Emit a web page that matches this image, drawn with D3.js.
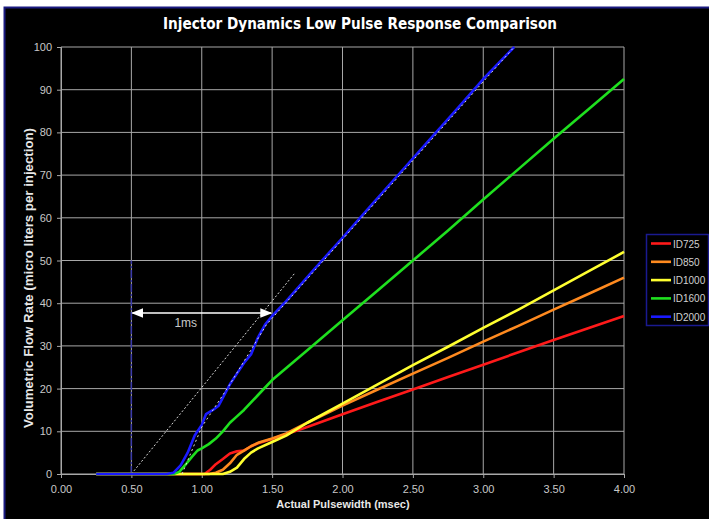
<!DOCTYPE html>
<html><head><meta charset="utf-8">
<script src="https://cdn.jsdelivr.net/npm/d3@7"></script>
<style>html,body{margin:0;padding:0;background:#fff;}svg{display:block;}</style>
</head><body>
<svg id="c" width="709" height="519"></svg>
<script>
const title = "Injector Dynamics Low Pulse Response Comparison";
const xLabel = "Actual Pulsewidth (msec)";
const yLabel = "Volumetric Flow Rate (micro liters per injection)";
const xTicks = [0,0.5,1,1.5,2,2.5,3,3.5,4];
const yTicks = [0,10,20,30,40,50,60,70,80,90,100];
const seriesNames = ["ID725","ID850","ID1000","ID1600","ID2000"];
const seriesColors = ["#ff1a1a","#ff8a1f","#ffff30","#1fe01f","#1a1aff"];
const id725 = [[0.25,0],[1.02,0],[1.06,1],[1.1,2.3],[1.15,3.5],[1.2,4.8],[1.25,5.3],[1.3,5.5],[1.35,6.5],[1.4,7.2],[1.5,8.2],[1.75,11],[2.0,14],[2.25,16.9],[2.5,19.8],[2.75,22.7],[3.0,25.6],[3.25,28.5],[3.5,31.4],[3.75,34.2],[4.0,37]];
const id850 = [[0.25,0],[1.05,0],[1.1,0.3],[1.15,1],[1.2,2.5],[1.25,4.5],[1.3,5.5],[1.35,6.5],[1.4,7.3],[1.5,8.3],[1.6,9.5],[1.75,12],[2.0,16],[2.25,19.8],[2.5,23.5],[2.75,27.2],[3.0,31],[3.25,34.7],[3.5,38.5],[3.75,42.2],[4.0,46]];
const id1000 = [[0.25,0],[1.15,0],[1.2,0.5],[1.25,1.5],[1.3,3.5],[1.35,5],[1.4,6],[1.5,7.5],[1.6,9],[1.75,12],[2.0,16.5],[2.25,21],[2.5,25.5],[2.75,29.8],[3.0,34.2],[3.25,38.5],[3.5,43],[3.75,47.5],[4.0,52]];
const id1600 = [[0.25,0],[0.8,0],[0.84,0.5],[0.88,2],[0.93,4],[0.97,5.5],[1.0,6],[1.05,7],[1.1,8.3],[1.15,10],[1.2,12],[1.25,13.5],[1.3,15],[1.4,18.5],[1.5,22],[1.75,29],[2.0,36],[2.25,43],[2.5,50],[2.75,57],[3.0,64.3],[3.25,71.4],[3.5,78.5],[3.75,85.5],[4.0,92.5]];
const id2000 = [[0.25,0],[0.5,0],[0.75,0],[0.8,0.3],[0.85,2],[0.9,5],[0.95,9],[1.0,11.5],[1.03,14],[1.08,15],[1.12,16],[1.2,21],[1.25,23.5],[1.3,26],[1.35,28],[1.4,32],[1.45,35],[1.5,37],[1.6,40.5],[1.8,48],[2.0,55.3],[2.2,62.8],[2.4,70.2],[2.6,77.6],[2.8,85],[3.0,92.5],[3.22,100]];
const guideA = [[0.5,0],[1.66,47]];
const guideB = [[0.86,0],[1.0,11],[1.2,21],[1.46,35],[3.22,100]];
const markerX = 0.5, markerTop = 50;
const arrowFrom = 0.5, arrowTo = 1.5, arrowY = 37.7, arrowText = "1ms";

const seriesData = [id725,id850,id1000,id1600,id2000];
const svg = d3.select("#c");
const font = "'Liberation Sans', Arial, sans-serif";

svg.append("rect").attr("x",0).attr("y",0).attr("width",709).attr("height",519).attr("fill","#fff");
svg.append("rect").attr("x",4.5).attr("y",7.5).attr("width",712).attr("height",520)
  .attr("fill","#000").attr("stroke","#1a1a80").attr("stroke-width",2);

const x = d3.scaleLinear().domain([0,4]).range([61,624]);
const y = d3.scaleLinear().domain([0,100]).range([474,47]);

// grid
const grid = svg.append("g");
grid.selectAll(".gx").data(xTicks).join("line")
  .attr("x1",d=>x(d)).attr("x2",d=>x(d)).attr("y1",y(0)).attr("y2",y(100))
  .attr("stroke","#a8a8a8").attr("stroke-width",1);
grid.selectAll(".gy").data(yTicks).join("line")
  .attr("y1",d=>y(d)).attr("y2",d=>y(d)).attr("x1",x(0)).attr("x2",x(4))
  .attr("stroke","#a8a8a8").attr("stroke-width",1);

// axes
const xAxis = d3.axisBottom(x).tickValues(xTicks).tickFormat(d3.format(".2f")).tickSize(4).tickPadding(7);
const yAxis = d3.axisLeft(y).tickValues(yTicks).tickFormat(d3.format("d")).tickSize(4).tickPadding(5);
const gx = svg.append("g").attr("transform",`translate(0,${y(0)})`).call(xAxis);
const gy = svg.append("g").attr("transform",`translate(${x(0)},0)`).call(yAxis);
[gx,gy].forEach(g=>{
  g.select(".domain").attr("stroke","#a8a8a8");
  g.selectAll(".tick line").attr("stroke","#a8a8a8");
  g.selectAll(".tick text").attr("fill","#c8c8c8").attr("font-family",font).attr("font-size",11);
});

// guides
svg.append("line").attr("x1",x(markerX)).attr("x2",x(markerX)).attr("y1",y(0)).attr("y2",y(markerTop))
  .attr("stroke","#3a3aa8").attr("stroke-width",1.5).attr("stroke-dasharray","8,2,2,2");
const lineGen = d3.line().x(d=>x(d[0])).y(d=>y(d[1]));
svg.append("path").attr("d",lineGen(guideA)).attr("fill","none").attr("stroke","#d8d8d8").attr("stroke-width",1).attr("stroke-dasharray","2,2");

// series
seriesData.forEach((s,i)=>{
  svg.append("path").attr("d",lineGen(s)).attr("fill","none")
    .attr("stroke",seriesColors[i]).attr("stroke-width",2.6).attr("stroke-linejoin","round");
});
svg.append("path").attr("d",lineGen(guideB)).attr("fill","none").attr("stroke","#e0e0e0").attr("stroke-width",1).attr("stroke-dasharray","2,3");

// arrow
const defs = svg.append("defs");
defs.append("marker").attr("id","ah").attr("viewBox","0 0 10 10").attr("refX",9).attr("refY",5)
  .attr("markerWidth",8).attr("markerHeight",8).attr("orient","auto-start-reverse")
  .append("path").attr("d","M0,1 L10,5 L0,9 Z").attr("fill","#ffffff");
svg.append("line").attr("x1",x(arrowFrom)+1).attr("x2",x(arrowTo)-1).attr("y1",y(arrowY)).attr("y2",y(arrowY))
  .attr("stroke","#ffffff").attr("stroke-width",1.5)
  .attr("marker-start","url(#ah)").attr("marker-end","url(#ah)");
svg.append("text").attr("x",x((arrowFrom+arrowTo)/2)-16).attr("y",y(arrowY)+14).attr("text-anchor","middle")
  .attr("fill","#c8c8c8").attr("font-family",font).attr("font-size",12).text(arrowText);

// title & labels
svg.append("text").attr("x",360).attr("y",29).attr("text-anchor","middle").attr("fill","#fff")
  .attr("font-family","'DejaVu Sans Condensed','DejaVu Sans',sans-serif").attr("font-weight","bold").attr("font-size",15)
  .attr("textLength",394).attr("lengthAdjust","spacingAndGlyphs").text(title);
svg.append("text").attr("x",343).attr("y",508).attr("text-anchor","middle").attr("fill","#e8e8e8")
  .attr("font-family",font).attr("font-weight","bold").attr("font-size",11).text(xLabel);
svg.append("text").attr("transform","translate(33,278) rotate(-90)").attr("text-anchor","middle").attr("fill","#e8e8e8")
  .attr("font-family",font).attr("font-weight","bold").attr("font-size",12)
  .attr("textLength",300).attr("lengthAdjust","spacingAndGlyphs").text(yLabel);

// legend
const lg = svg.append("g");
lg.append("rect").attr("x",646.5).attr("y",234.5).attr("width",62).attr("height",91)
  .attr("fill","#000").attr("stroke","#1a1a90").attr("stroke-width",1.5);
seriesNames.forEach((n,i)=>{
  const yy = 243.5 + i*18.3;
  lg.append("line").attr("x1",651).attr("x2",671).attr("y1",yy).attr("y2",yy)
    .attr("stroke",seriesColors[i]).attr("stroke-width",2.6);
  lg.append("text").attr("x",673).attr("y",yy+4).attr("fill","#d0d0d0")
    .attr("font-family",font).attr("font-size",10).text(n);
});
</script>
</body></html>
